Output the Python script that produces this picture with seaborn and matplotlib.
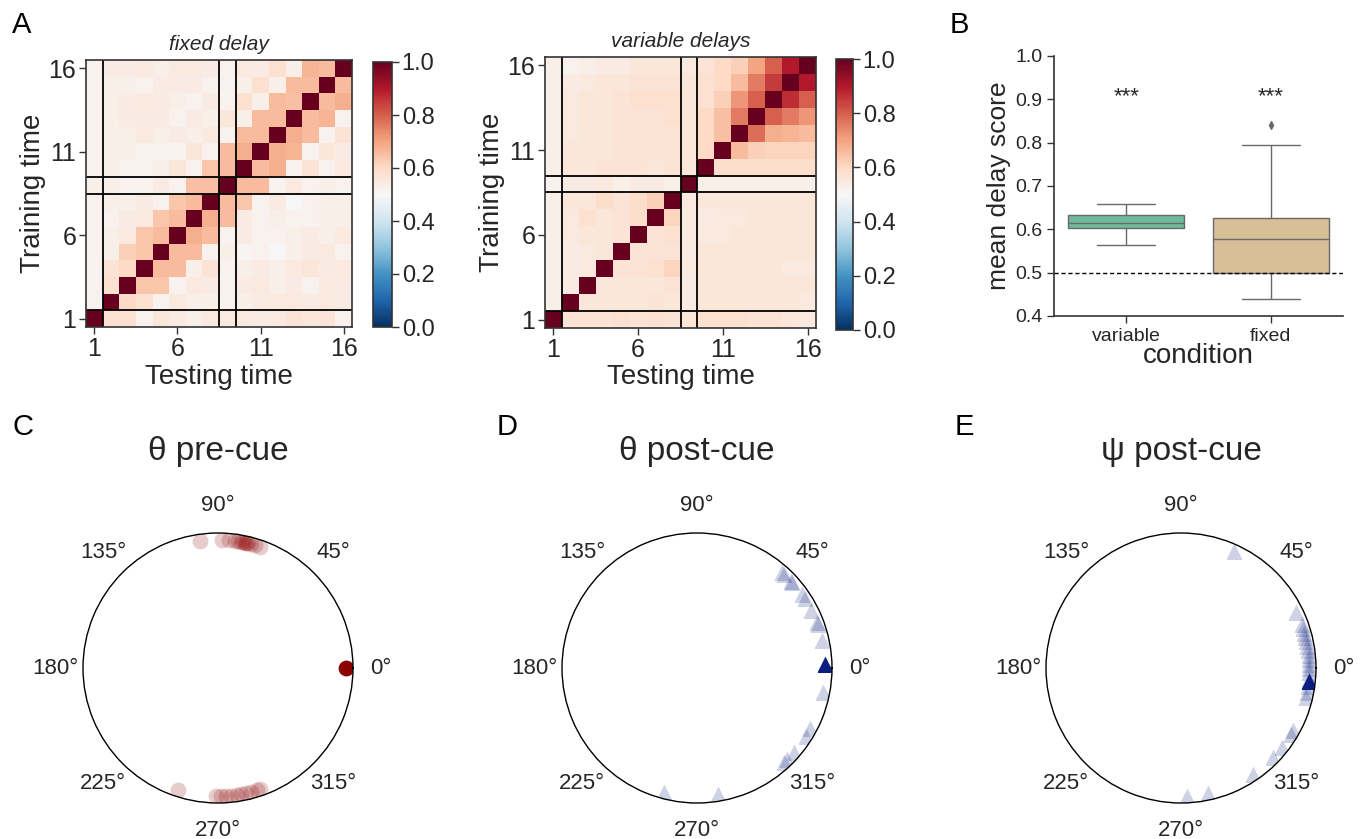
import numpy as np
import pandas as pd
import seaborn as sns
import matplotlib
matplotlib.use("Agg")
import matplotlib.pyplot as plt

sns.set_theme(style="ticks")
plt.rcParams['font.family'] = ['Liberation Sans', 'DejaVu Sans']

# ---- data ----
time_points = list(range(1, 17))
tick_times = [1, 6, 11, 16]
epoch_bounds = [1, 8, 9]

# rows = training time 1..16, columns = testing time 1..16
fixed_delay = [
    [1.00, 0.58, 0.58, 0.52, 0.56, 0.54, 0.53, 0.55, 0.55, 0.55, 0.54, 0.55, 0.57, 0.56, 0.57, 0.52],
    [0.52, 1.00, 0.60, 0.58, 0.52, 0.55, 0.53, 0.53, 0.52, 0.53, 0.54, 0.55, 0.55, 0.54, 0.55, 0.54],
    [0.52, 0.58, 1.00, 0.64, 0.64, 0.52, 0.55, 0.54, 0.52, 0.54, 0.55, 0.53, 0.54, 0.52, 0.55, 0.54],
    [0.52, 0.57, 0.60, 1.00, 0.66, 0.66, 0.53, 0.57, 0.52, 0.53, 0.54, 0.53, 0.55, 0.56, 0.54, 0.55],
    [0.52, 0.53, 0.62, 0.64, 1.00, 0.66, 0.66, 0.52, 0.53, 0.51, 0.52, 0.50, 0.53, 0.54, 0.55, 0.52],
    [0.52, 0.53, 0.55, 0.64, 0.66, 1.00, 0.68, 0.66, 0.52, 0.54, 0.52, 0.52, 0.53, 0.54, 0.53, 0.55],
    [0.52, 0.52, 0.54, 0.55, 0.64, 0.66, 1.00, 0.68, 0.66, 0.54, 0.52, 0.53, 0.52, 0.52, 0.53, 0.53],
    [0.52, 0.53, 0.53, 0.54, 0.52, 0.64, 0.66, 1.00, 0.66, 0.64, 0.52, 0.54, 0.50, 0.52, 0.53, 0.53],
    [0.53, 0.53, 0.52, 0.52, 0.54, 0.52, 0.65, 0.65, 1.00, 0.66, 0.66, 0.52, 0.55, 0.52, 0.53, 0.52],
    [0.52, 0.53, 0.52, 0.52, 0.53, 0.56, 0.52, 0.64, 0.66, 1.00, 0.66, 0.68, 0.52, 0.57, 0.52, 0.55],
    [0.52, 0.53, 0.53, 0.52, 0.52, 0.52, 0.56, 0.52, 0.66, 0.68, 1.00, 0.68, 0.67, 0.52, 0.56, 0.54],
    [0.52, 0.53, 0.53, 0.55, 0.53, 0.54, 0.53, 0.55, 0.52, 0.66, 0.66, 1.00, 0.68, 0.66, 0.52, 0.57],
    [0.52, 0.53, 0.54, 0.54, 0.54, 0.52, 0.54, 0.53, 0.56, 0.53, 0.66, 0.66, 1.00, 0.66, 0.67, 0.52],
    [0.52, 0.53, 0.54, 0.55, 0.54, 0.53, 0.52, 0.54, 0.52, 0.58, 0.53, 0.66, 0.65, 1.00, 0.66, 0.68],
    [0.52, 0.53, 0.53, 0.52, 0.54, 0.54, 0.54, 0.52, 0.52, 0.53, 0.58, 0.53, 0.66, 0.66, 1.00, 0.66],
    [0.52, 0.54, 0.54, 0.55, 0.53, 0.55, 0.55, 0.54, 0.52, 0.55, 0.54, 0.58, 0.53, 0.67, 0.66, 1.00],
]

variable_delays = [
    [1.00, 0.57, 0.57, 0.57, 0.58, 0.57, 0.58, 0.57, 0.56, 0.58, 0.58, 0.58, 0.57, 0.57, 0.56, 0.55],
    [0.53, 1.00, 0.56, 0.56, 0.56, 0.56, 0.57, 0.56, 0.54, 0.56, 0.56, 0.56, 0.56, 0.56, 0.56, 0.55],
    [0.53, 0.54, 1.00, 0.56, 0.56, 0.56, 0.56, 0.57, 0.54, 0.56, 0.56, 0.56, 0.56, 0.56, 0.56, 0.56],
    [0.53, 0.54, 0.55, 1.00, 0.57, 0.57, 0.58, 0.61, 0.55, 0.56, 0.56, 0.56, 0.56, 0.56, 0.55, 0.55],
    [0.53, 0.54, 0.55, 0.56, 1.00, 0.57, 0.57, 0.57, 0.54, 0.56, 0.56, 0.56, 0.56, 0.56, 0.56, 0.56],
    [0.53, 0.55, 0.56, 0.56, 0.57, 1.00, 0.57, 0.58, 0.55, 0.55, 0.55, 0.56, 0.56, 0.56, 0.56, 0.56],
    [0.53, 0.55, 0.58, 0.56, 0.57, 0.59, 1.00, 0.61, 0.55, 0.54, 0.55, 0.55, 0.56, 0.56, 0.56, 0.56],
    [0.53, 0.56, 0.56, 0.59, 0.57, 0.59, 0.62, 1.00, 0.55, 0.56, 0.56, 0.56, 0.56, 0.56, 0.56, 0.56],
    [0.52, 0.54, 0.54, 0.55, 0.53, 0.54, 0.54, 0.53, 1.00, 0.53, 0.53, 0.53, 0.53, 0.53, 0.53, 0.53],
    [0.53, 0.56, 0.56, 0.57, 0.57, 0.57, 0.56, 0.57, 0.56, 1.00, 0.59, 0.59, 0.59, 0.59, 0.59, 0.59],
    [0.53, 0.56, 0.56, 0.56, 0.57, 0.57, 0.57, 0.57, 0.56, 0.60, 1.00, 0.66, 0.62, 0.61, 0.61, 0.61],
    [0.53, 0.55, 0.56, 0.56, 0.57, 0.57, 0.57, 0.57, 0.56, 0.60, 0.65, 1.00, 0.78, 0.68, 0.67, 0.66],
    [0.53, 0.55, 0.56, 0.56, 0.57, 0.57, 0.57, 0.58, 0.56, 0.60, 0.65, 0.76, 1.00, 0.80, 0.76, 0.72],
    [0.53, 0.55, 0.56, 0.56, 0.57, 0.58, 0.58, 0.58, 0.56, 0.58, 0.62, 0.72, 0.80, 1.00, 0.87, 0.80],
    [0.53, 0.54, 0.55, 0.56, 0.56, 0.57, 0.57, 0.57, 0.56, 0.58, 0.60, 0.66, 0.76, 0.85, 1.00, 0.90],
    [0.53, 0.52, 0.53, 0.54, 0.54, 0.56, 0.56, 0.56, 0.55, 0.57, 0.60, 0.62, 0.70, 0.80, 0.90, 1.00],
]

conditions = ["variable", "fixed"]
variable_scores = [0.563, 0.590, 0.602, 0.610, 0.615, 0.620, 0.632, 0.645, 0.658]
fixed_scores = [0.440, 0.480, 0.500, 0.550, 0.578, 0.600, 0.625, 0.795, 0.840]
chance_level = 0.5

theta_pre = [98, 88, 85, 82.5, 81, 79.5, 78.7, 78, 77.2, 76.4, 75, 73.3, 71,
             252, 269, 271.5, 273.7, 276, 278.3, 280.5, 282.8, 285, 287.5, 289]
theta_pre_mean = [0]
theta_post = [48.7, 47, 43, 42, 35, 33, 27, 21, 20, 12.7, 349.4, 332, 328,
              319, 314.5, 313, 255, 279.5]
theta_post_mean = [2]
psi_post = [65.7, 26, 20, 18, 16, 14, 12, 10, 8, 6, 4, 2, 0, 358, 355, 352,
            349, 347, 331, 329, 322, 316, 304, 282, 272.5]
psi_post_mean = [354]
polar_ticks = [0, 45, 90, 135, 180, 225, 270, 315]

# ---- figure ----
W, H = 1364, 839
fig = plt.figure(figsize=(W / 100, H / 100), dpi=100)


def px_axes(x0, y0, x1, y1, **kw):
    return fig.add_axes([x0 / W, 1 - y1 / H, (x1 - x0) / W, (y1 - y0) / H], **kw)


def draw_heatmap(ax, cax, matrix, title):
    n = len(time_points)
    df = pd.DataFrame(np.array(matrix)[::-1], index=time_points[::-1], columns=time_points)
    sns.heatmap(df, ax=ax, cbar_ax=cax, cmap="RdBu_r", vmin=0, vmax=1,
                xticklabels=False, yticklabels=False)
    for b in epoch_bounds:
        ax.axvline(b, color="black", lw=1.3)
        ax.axhline(n - b, color="black", lw=1.3)
    ax.set_xticks([time_points.index(t) + 0.5 for t in tick_times])
    ax.set_xticklabels(tick_times)
    ax.set_yticks([n - time_points.index(t) - 0.5 for t in tick_times])
    ax.set_yticklabels(tick_times, rotation=0)
    ax.tick_params(labelsize=18, length=5, width=1, color="#333333", pad=2)
    for s in ax.spines.values():
        s.set_visible(True)
        s.set_color("#333333")
        s.set_linewidth(1.2)
    ax.set_xlabel("Testing time", fontsize=20, labelpad=2)
    ax.set_ylabel("Training time", fontsize=20, labelpad=2)
    ax.set_title(title, fontsize=15, style="italic", pad=7)
    cb = ax.collections[0].colorbar
    cb.outline.set_linewidth(1.2)
    cb.outline.set_edgecolor("#333333")
    cb.set_ticks([0.0, 0.2, 0.4, 0.6, 0.8, 1.0])
    cax.tick_params(labelsize=17, length=5, width=1, color="#333333", pad=2)


ax_fixed = px_axes(86, 60, 352, 327)
cax_fixed = px_axes(373, 62, 392, 327)
draw_heatmap(ax_fixed, cax_fixed, fixed_delay, "fixed delay")

ax_var = px_axes(545, 57, 816, 328)
cax_var = px_axes(836, 59, 853, 330)
draw_heatmap(ax_var, cax_var, variable_delays, "variable delays")

# ---- panel B ----
axb = px_axes(1054, 56, 1343, 316)
box_df = pd.DataFrame({
    "condition": [conditions[0]] * len(variable_scores) + [conditions[1]] * len(fixed_scores),
    "score": variable_scores + fixed_scores,
})
sns.boxplot(data=box_df, x="condition", y="score", hue="condition",
            palette=["#6dbb9c", "#d8bf97"], saturation=1, linewidth=1,
            linecolor="#6a6a6a", legend=False, ax=axb,
            flierprops=dict(marker="d", markersize=4, markerfacecolor="#6a6a6a",
                            markeredgecolor="#6a6a6a"))
axb.axhline(chance_level, color="black", lw=1, ls=(0, (3, 2)))
for i in range(len(conditions)):
    axb.text(i, 0.905, "***", ha="center", va="center", fontsize=16)
axb.set_ylim(0.4, 1.0)
axb.set_xlim(-0.5, 1.5)
axb.set_yticks(np.arange(0.4, 1.01, 0.1))
axb.set_yticklabels([f"{v:.1f}" for v in np.arange(0.4, 1.01, 0.1)])
axb.tick_params(labelsize=14, length=5, width=1, color="#333333")
axb.set_xlabel("condition", fontsize=20, labelpad=-1)
axb.set_ylabel("mean delay score", fontsize=19, labelpad=3)
sns.despine(ax=axb)
for s in ("left", "bottom"):
    axb.spines[s].set_color("#333333")
    axb.spines[s].set_linewidth(1.2)

# ---- polar panels ----
polar_specs = [
    (83, "θ pre-cue", theta_pre, theta_pre_mean, "o", "#8b0000"),
    (562, "θ post-cue", theta_post, theta_post_mean, "^", "#0b1f80"),
    (1046, "ψ post-cue", psi_post, psi_post_mean, "^", "#0b1f80"),
]
for x0, title, angles, mean_angle, marker, color in polar_specs:
    ax = px_axes(x0, 533, x0 + 270, 803, projection="polar")
    ring = 0.95
    sns.scatterplot(x=np.deg2rad(angles), y=[ring] * len(angles), marker=marker,
                    s=130, color=color, alpha=0.2, linewidth=0, ax=ax)
    sns.scatterplot(x=np.deg2rad(mean_angle), y=[ring] * len(mean_angle), marker=marker,
                    s=130, color=color, alpha=1, linewidth=0, ax=ax)
    ax.set_ylim(0, 1)
    ax.set_yticks([])
    ax.grid(False)
    ax.set_thetagrids(polar_ticks, labels=[f"{a}°" for a in polar_ticks])
    ax.tick_params(axis="x", labelsize=16, pad=7)
    ax.spines["polar"].set_color("black")
    ax.spines["polar"].set_linewidth(1)
    ax.set_xlabel("")
    ax.set_ylabel("")
    ax.set_title(title, fontsize=24, y=1.24)

# panel letters
for letter, x, y in [("A", 12, 33), ("B", 950, 33), ("C", 13, 435), ("D", 497, 435), ("E", 955, 435)]:
    fig.text(x / W, 1 - y / H, letter, fontsize=21, color="black")

fig.savefig("out.png", dpi=100)
